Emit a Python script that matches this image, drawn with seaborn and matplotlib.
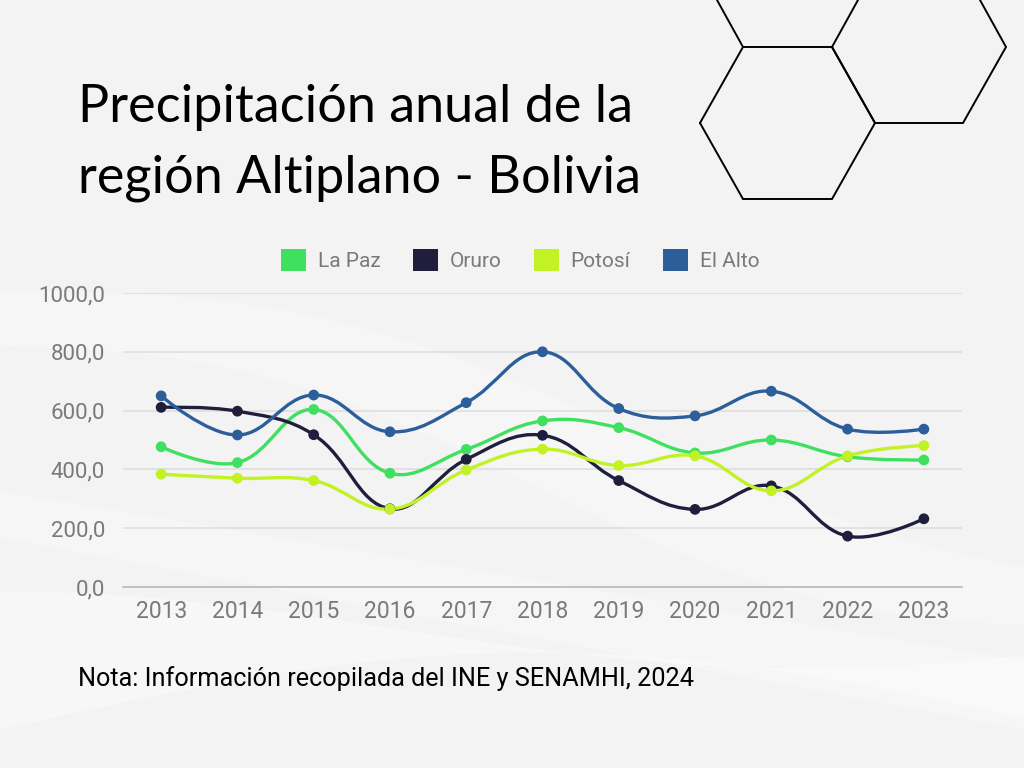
import numpy as np
import pandas as pd
import matplotlib
matplotlib.use("Agg")
import matplotlib.pyplot as plt
from matplotlib.path import Path
from matplotlib.patches import PathPatch, Patch
from matplotlib.lines import Line2D
import seaborn as sns

years = [2013, 2014, 2015, 2016, 2017, 2018, 2019, 2020, 2021, 2022, 2023]
la_paz = [477, 423, 604, 387, 468, 565, 542, 456, 500, 443, 432]
oruro = [611, 598, 518, 266, 434, 516, 362, 264, 344, 173, 232]
potosi = [384, 370, 362, 265, 398, 469, 413, 446, 327, 446, 481]
el_alto = [650, 517, 653, 528, 627, 800, 607, 582, 666, 537, 537]
series_names = ["La Paz", "Oruro", "Potosí", "El Alto"]
colors = ["#3fe060", "#1f1f3d", "#c2f226", "#2c5e9a"]
y_ticks = [0, 200, 400, 600, 800, 1000]

sns.set_theme(style="white")
plt.rcParams['font.family'] = ['Roboto', 'DejaVu Sans']

BG = "#f3f3f3"
fig = plt.figure(figsize=(10.24, 7.68), dpi=100, facecolor=BG)

# soft background swooshes
bgax = fig.add_axes([0, 0, 1, 1], zorder=-10)
bgax.set_xlim(0, 1)
bgax.set_ylim(0, 1)
bgax.axis("off")
xx = np.linspace(0, 1, 200)
bgax.fill_between(xx, 0.55 - 0.35 * xx + 0.05 * np.sin(6 * xx), 0.62 - 0.30 * xx + 0.06 * np.sin(5 * xx),
                  color="white", alpha=0.3, lw=0)
bgax.fill_between(xx, 0.05 + 0.10 * np.sin(3 * xx), 0.18 + 0.05 * np.cos(4 * xx),
                  color="white", alpha=0.35, lw=0)
bgax.fill_between(xx, 0.30 - 0.25 * xx, 0.36 - 0.22 * xx, color="white", alpha=0.25, lw=0)

# hexagon decoration (figure pixel coords, origin top-left)
def px(x, y):
    return (x / 1024, 1 - y / 768)

hex_lines = [
    [(700, 123), (743, 47), (832, 47), (875, 123), (832, 199), (743, 199), (700, 123)],
    [(832, 47), (875, 123), (963, 123), (1006, 47), (980, 0)],
    [(832, 47), (858, 0)],
    [(743, 47), (717, 0)],
]
for seg in hex_lines:
    xs, ys = zip(*[px(a, b) for a, b in seg])
    fig.add_artist(Line2D(xs, ys, color="black", lw=1.4, transform=fig.transFigure,
                          solid_joinstyle="miter"))

fig.text(78 / 1024, 1 - 122 / 768, "Precipitación anual de la", fontsize=37.5,
         color="black", ha="left", va="baseline", family=["Lato", "DejaVu Sans"])
fig.text(78 / 1024, 1 - 192 / 768, "región Altiplano - Bolivia", fontsize=37.5,
         color="black", ha="left", va="baseline", family=["Lato", "DejaVu Sans"])
fig.text(78 / 1024, 1 - 686 / 768, "Nota: Información recopilada del INE y SENAMHI, 2024",
         fontsize=18.2, color="black", ha="left", va="baseline")

ax = fig.add_axes([123 / 1024, 1 - 587 / 768, 839 / 1024, 294 / 768])
ax.set_facecolor("none")

df = pd.DataFrame({
    "Año": years * 4,
    "Valor": la_paz + oruro + potosi + el_alto,
    "Serie": sum([[n] * len(years) for n in series_names], []),
})

# smooth lines (spline style, like the original chart)
def spline_path(xv, yv, sx=76.0, sy=0.294, t=0.4):
    X = np.asarray(xv, float)
    Y = np.asarray(yv, float)
    n = len(X)
    cpp = []
    cpn = []
    for i in range(n):
        if i == 0 or i == n - 1:
            cpp.append((X[i], Y[i]))
            cpn.append((X[i], Y[i]))
            continue
        p0 = np.array([X[i - 1] * sx, Y[i - 1] * sy])
        p1 = np.array([X[i] * sx, Y[i] * sy])
        p2 = np.array([X[i + 1] * sx, Y[i + 1] * sy])
        d01 = np.hypot(*(p1 - p0))
        d12 = np.hypot(*(p2 - p1))
        s01 = d01 / (d01 + d12)
        s12 = d12 / (d01 + d12)
        a = p1 - t * s01 * (p2 - p0)
        b = p1 + t * s12 * (p2 - p0)
        cpp.append((a[0] / sx, a[1] / sy))
        cpn.append((b[0] / sx, b[1] / sy))
    verts = [(X[0], Y[0])]
    codes = [Path.MOVETO]
    for i in range(n - 1):
        verts += [cpn[i], cpp[i + 1], (X[i + 1], Y[i + 1])]
        codes += [Path.CURVE4] * 3
    return Path(verts, codes)

for name, col in zip(series_names, colors):
    sub = df[df["Serie"] == name]
    p = spline_path(sub["Año"].values, sub["Valor"].values)
    ax.add_patch(PathPatch(p, facecolor="none", edgecolor=col, lw=2.4, zorder=3,
                           capstyle="round"))

sns.scatterplot(data=df, x="Año", y="Valor", hue="Serie", hue_order=series_names,
                palette=colors, s=60, edgecolor="none", legend=False, ax=ax, zorder=4)

ax.set_xlim(years[0] - 0.5, years[-1] + 0.5)
ax.set_ylim(0, 1000)
ax.set_xticks(years)
ax.set_xticklabels([str(y) for y in years])
ax.set_yticks(y_ticks)
ax.set_yticklabels([f"{v:.1f}".replace(".", ",") for v in y_ticks])
ax.set_xlabel("")
ax.set_ylabel("")
ax.grid(axis="y", color="#dcdcdc", lw=1.1)
ax.grid(axis="x", visible=False)
for s in ["top", "right", "left"]:
    ax.spines[s].set_visible(False)
ax.spines["bottom"].set_color("#b5b5b5")
ax.spines["bottom"].set_linewidth(1.1)
ax.tick_params(axis="x", length=0, pad=9, labelsize=16.5, labelcolor="#7a7a7a")
ax.tick_params(axis="y", length=0, pad=13, labelsize=16, labelcolor="#7a7a7a")

handles = [Patch(facecolor=c, edgecolor="none") for c in colors]
fig.legend(handles, series_names, loc="center", bbox_to_anchor=(520 / 1024, 1 - 260 / 768),
           ncol=4, frameon=False, fontsize=15, labelcolor="#7a7a7a",
           handlelength=1.2, handleheight=1.2, handletextpad=0.58, columnspacing=1.54)

fig.savefig("out.png", dpi=100, facecolor=BG)
